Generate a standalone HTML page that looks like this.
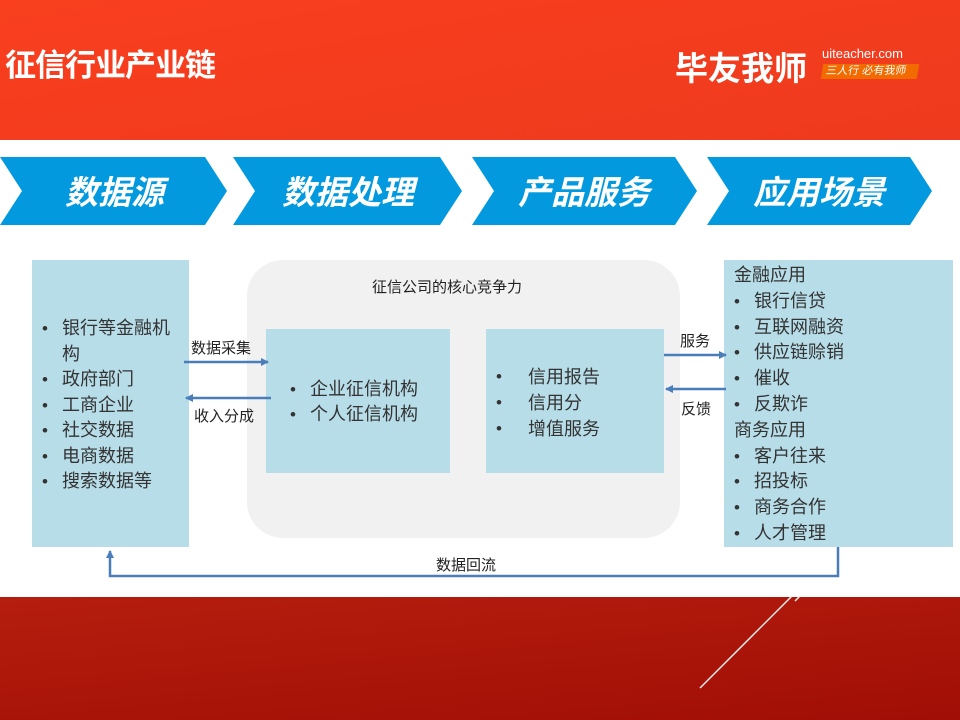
<!DOCTYPE html>
<html><head><meta charset="utf-8"><style>
body{margin:0;width:960px;height:720px;position:relative;overflow:hidden;background:#fff;font-family:"Liberation Sans","Noto Sans CJK SC",sans-serif;}
.a{position:absolute}
.box{position:absolute;background:#b7dde8}
ul{margin:0;padding:0;list-style:none}
li{position:relative;padding-left:20px}
li:before{content:"•";position:absolute;left:0;font-size:17px}
</style></head><body>
<div class="a" style="left:0;top:0;width:960px;height:140px;background:linear-gradient(170deg,#f93f1e,#ee3a1e)"></div>
<div class="a" style="left:5px;top:40px;color:#fff;font-size:31px;font-weight:bold;letter-spacing:-1px">征信行业产业链</div>
<div class="a" style="left:675px;top:42px;color:#fff;font-size:33px;font-weight:bold">毕友我师</div>
<div class="a" style="left:822px;top:46px;color:#fff;font-size:13px">uiteacher.com</div>
<div class="a" style="left:822px;top:64px;width:92px;height:15px;background:#f26b00;color:#fff;font-size:11px;line-height:15px;padding-left:4px;transform:skewX(-10deg)">三人行 必有我师</div>
<div class="a" style="left:0;top:597px;width:960px;height:123px;background:linear-gradient(175deg,#b51e0e,#a10e05)"></div>
<svg class="a" style="left:0;top:0" width="960" height="720">
<g fill="#0399de">
<polygon points="0,157 205,157 227,191 205,225 0,225 22,191"/>
<polygon points="233,157 440,157 462,191 440,225 233,225 255,191"/>
<polygon points="472,157 675,157 697,191 675,225 472,225 494,191"/>
<polygon points="707,157 910,157 932,191 910,225 707,225 729,191"/>
</g>
<g fill="#fff" font-size="33" font-weight="bold" font-style="italic" font-family="Liberation Sans,Noto Sans CJK SC,sans-serif">
<text x="65" y="204">数据源</text><text x="282" y="204">数据处理</text><text x="518" y="204">产品服务</text><text x="753" y="204">应用场景</text>
</g>
<line x1="700" y1="688" x2="792" y2="596" stroke="#eee" stroke-width="1.5"/>
<line x1="795" y1="601" x2="800" y2="596" stroke="#eee" stroke-width="1.5"/>
</svg>
<div class="box" style="left:32px;top:260px;width:157px;height:287px"></div>
<div class="a" style="left:247px;top:260px;width:433px;height:278px;background:#f1f1f1;border-radius:36px"></div>
<div class="a" style="left:372px;top:276px;font-size:15px;color:#222">征信公司的核心竞争力</div>
<div class="box" style="left:266px;top:329px;width:184px;height:144px"></div>
<div class="box" style="left:486px;top:329px;width:178px;height:144px"></div>
<div class="box" style="left:724px;top:260px;width:229px;height:287px"></div>
<ul class="a" style="left:42px;top:316px;width:145px;font-size:18px;line-height:25.5px;color:#333">
<li>银行等金融机构</li><li>政府部门</li><li>工商企业</li><li>社交数据</li><li>电商数据</li><li>搜索数据等</li></ul>
<ul class="a" style="left:290px;top:377px;font-size:18px;line-height:25px;color:#333">
<li>企业征信机构</li><li>个人征信机构</li></ul>
<ul class="a" style="left:496px;top:364px;font-size:18px;line-height:26px;color:#333">
<li style="padding-left:32px">信用报告</li><li style="padding-left:32px">信用分</li><li style="padding-left:32px">增值服务</li></ul>
<div class="a" style="left:734px;top:263px;font-size:18px;line-height:25.8px;color:#333">
<div>金融应用</div>
<ul><li>银行信贷</li><li>互联网融资</li><li>供应链赊销</li><li>催收</li><li>反欺诈</li></ul>
<div>商务应用</div>
<ul><li>客户往来</li><li>招投标</li><li>商务合作</li><li>人才管理</li></ul></div>
<svg class="a" style="left:0;top:0" width="960" height="720">
<defs><marker id="m" markerWidth="8" markerHeight="8" refX="7" refY="4" orient="auto" markerUnits="userSpaceOnUse"><path d="M0,0L8,4L0,8z" fill="#4a7ebb"/></marker></defs>
<g stroke="#4a7ebb" stroke-width="2.5" fill="none">
<line x1="184" y1="362" x2="268" y2="362" marker-end="url(#m)"/>
<line x1="271" y1="398" x2="186" y2="398" marker-end="url(#m)"/>
<line x1="664" y1="355" x2="726" y2="355" marker-end="url(#m)"/>
<line x1="726" y1="389" x2="666" y2="389" marker-end="url(#m)"/>
<polyline points="838,547 838,576 110,576 110,551" marker-end="url(#m)"/>
</g>
<g font-size="15" fill="#222" font-family="Liberation Sans,Noto Sans CJK SC,sans-serif">
<text x="191" y="353">数据采集</text><text x="194" y="421">收入分成</text>
<text x="680" y="346">服务</text><text x="681" y="414">反馈</text>
<text x="436" y="570">数据回流</text>
</g></svg>
</body></html>
